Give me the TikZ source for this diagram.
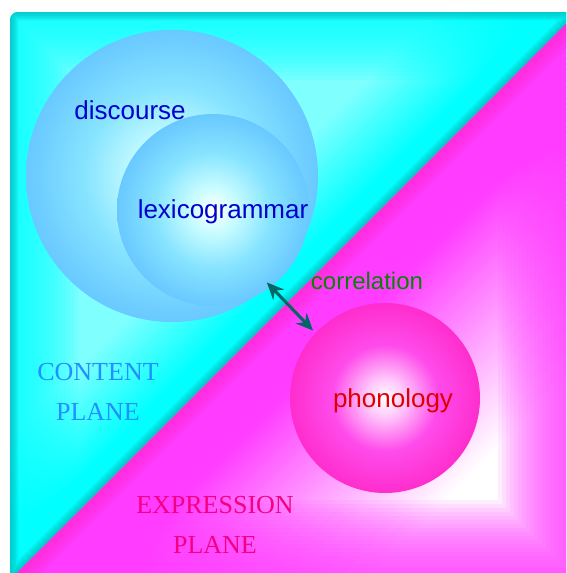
\documentclass[tikz,border=0pt]{standalone}
\usepackage{fontspec}
\setmainfont{Liberation Serif}
\setsansfont{Liberation Sans}
\usetikzlibrary{arrows.meta,positioning}

\definecolor{cyanbase}{RGB}{0,255,255}
\definecolor{cyandark}{RGB}{0,175,175}
\definecolor{magbase}{RGB}{255,60,255}
\definecolor{magdark}{RGB}{255,35,195}
\definecolor{discouter}{RGB}{105,200,255}
\definecolor{discmid}{RGB}{135,228,255}
\definecolor{disclight}{RGB}{200,252,255}
\definecolor{phonouter}{RGB}{255,45,205}
\definecolor{phonmid}{RGB}{255,75,235}
\definecolor{phonlight}{RGB}{255,200,250}
\definecolor{textblue}{RGB}{0,0,205}
\definecolor{corrgreen}{RGB}{10,130,10}
\definecolor{phonred}{RGB}{220,0,0}
\definecolor{contentblue}{RGB}{30,144,255}
\definecolor{exprpink}{RGB}{245,0,130}
\definecolor{arrowteal}{RGB}{0,102,102}

\pgfdeclareradialshading{discshade}{\pgfpoint{0bp}{0bp}}{color(0bp)=(white); color(6bp)=(disclight); color(15bp)=(discmid); color(25bp)=(discouter); color(50bp)=(discouter)}
\pgfdeclareradialshading{phonshade}{\pgfpoint{0bp}{0bp}}{color(0bp)=(white); color(5bp)=(phonlight); color(14bp)=(phonmid); color(25bp)=(phonouter); color(50bp)=(phonouter)}

\tikzset{
  wordlabel/.style={font=\sffamily\fontsize{26}{30}\selectfont, anchor=base},
  planelabel/.style={font=\rmfamily\fontsize{26}{40}\selectfont, align=center},
  blob/.style={circle, inner sep=0pt, outer sep=0pt, shade, shading=#1},
  corrarrow/.style={arrowteal, line width=3pt,
    {Stealth[length=17pt,width=15pt]}-{Stealth[length=17pt,width=15pt]}},
}

\begin{document}
\begin{tikzpicture}[x=1pt,y=-1pt]
  \useasboundingbox (0,0) rectangle (566,573);
  \clip (0,0) rectangle (566,573);

  % content plane (upper left half)
  \begin{scope}
    \clip (10,580) [rounded corners=8pt] -- (10,12) -- (578,12) [sharp corners] -- cycle;
    \foreach \d in {0,4,...,404} {
      \pgfmathsetmacro\p{100-min(50,max(0,(\d-20)/1.6))}
      \pgfmathsetmacro\c{590-\d*1.4142}
      \pgfmathsetmacro\e{590-(\d+5)*1.4142}
      \fill[cyanbase!\p!white] (\c+600,-600) -- (-600,\c+600) -- (-600,\e+600) -- (\e+600,-600) -- cycle;
    }
    \foreach \lw in {8,16,...,136}
      \draw[cyanbase, opacity=.09, line width=\lw pt] (10,600) -- (10,12) -- (600,12);
    \foreach \lw in {4,8,12,16}
      \draw[cyandark, opacity=.2, line width=\lw pt] (10,600) -- (10,12) -- (600,12) (-10,600) -- (600,-10);
  \end{scope}

  % expression plane (lower right half)
  \begin{scope}
    \clip (578,12) -- (578,580) -- (10,580) -- cycle;
    \foreach \d in {0,4,...,404} {
      \pgfmathsetmacro\p{100-min(100,max(0,(\d-60)/1.9))}
      \pgfmathsetmacro\c{590+\d*1.4142}
      \pgfmathsetmacro\e{590+(\d+5)*1.4142}
      \fill[magbase!\p!white] (\c+600,-600) -- (-600,\c+600) -- (-600,\e+600) -- (\e+600,-600) -- cycle;
    }
    \foreach \lw in {8,16,...,160}
      \draw[magbase, opacity=.09, line width=\lw pt] (578,-10) -- (578,580) -- (-10,580);
    \foreach \lw in {6,12,...,36}
      \draw[magdark, opacity=.12, line width=\lw pt] (-10,600) -- (600,-10);
  \end{scope}

  % strata
  \node[blob=discshade, minimum size=292pt] (discourse) at (172,176) {};
  \node[blob=discshade, minimum size=192pt] (lexgram) at (213,210) {};
  \node[blob=phonshade, minimum size=190pt] (phonology) at (385,398) {};

  \node[wordlabel, textblue] (disclabel) at (130,119) {discourse};
  \node[wordlabel, textblue] (lexlabel) at (223,218) {lexicogrammar};
  \node[wordlabel, phonred] (phonlabel) at (393,407) {phonology};
  \node[wordlabel, corrgreen, font=\sffamily\fontsize{24}{28}\selectfont] (corrlabel) at (367,289) {correlation};

  \node[planelabel, contentblue] (content) at (98,392) {CONTENT\\PLANE};
  \node[planelabel, exprpink] (expression) at (215,525) {EXPRESSION\\PLANE};

  \draw[corrarrow, transform canvas={shift={(-3.8,3.6)}}, shorten <=-3.5pt, shorten >=3.5pt] (discourse) -- (phonology);
\end{tikzpicture}
\end{document}
